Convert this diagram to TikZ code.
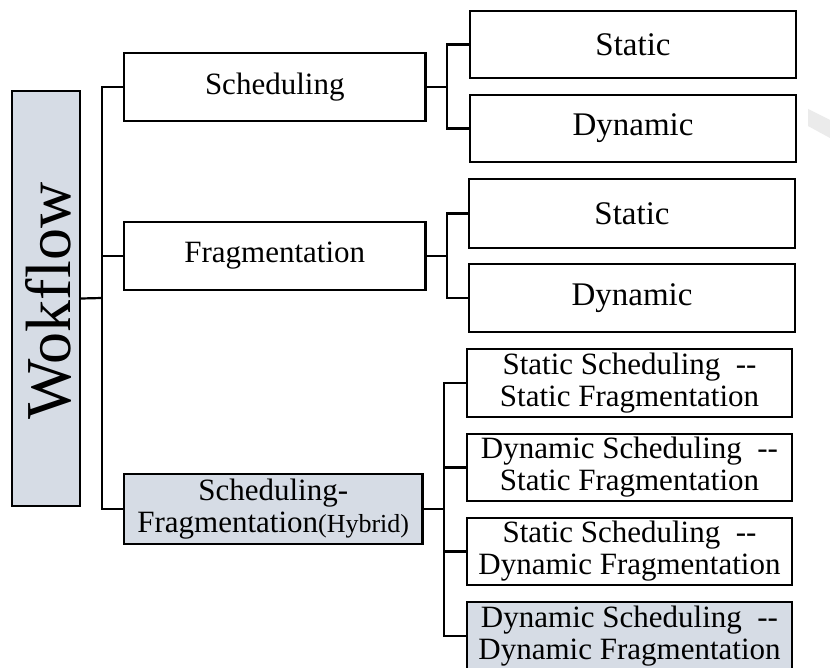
\documentclass[tikz,border=0pt]{standalone}
\usepackage{fontspec}
\setmainfont{Liberation Serif}
\definecolor{boxfill}{HTML}{D6DCE5}
\definecolor{wmark}{HTML}{EBEBEB}
\newcommand{\dd}{-{}-}
\begin{document}
\begin{tikzpicture}[x=1pt,y=-1pt,
  box/.style={draw=black,line width=2.2pt,rectangle,inner sep=0pt,align=center,
    font=\fontsize{31}{32}\selectfont},
  leaf/.style={box,minimum width=326pt,minimum height=67pt,font=\fontsize{33}{34}\selectfont},
  hleaf/.style={box,minimum width=325pt,minimum height=67pt},
  mid/.style={box,minimum width=301.5pt,minimum height=68pt},
  shaded/.style={fill=boxfill},
  link/.style={draw=black,line width=2.2pt}]
\useasboundingbox (0,0) rectangle (830,668);
\fill[white] (0,0) rectangle (830,668);
\fill[wmark] (808,109) -- (830,120) -- (830,138) -- (808,126) -- cycle;

% root
\node[box,shaded,minimum width=68pt,minimum height=415pt] (wf) at (46,298.5) {};
\node[rotate=90,font=\fontsize{64}{64}\selectfont,inner sep=0pt] (wft) at (48,301) {Wokflow};

% middle level
\node[mid] (sch) at (274.75,87) {Scheduling};
\node[mid] (frag) at (274.75,256) {Fragmentation};
\node[mid,shaded,minimum width=298.5pt,minimum height=70pt] (hyb) at (273.25,509)
  {Scheduling-\\Fragmentation{\fontsize{26}{32}\selectfont(Hybrid)}};

% leaves
\node[leaf] (s1) at (633,44.5) {Static};
\node[leaf] (d1) at (633,128.5) {Dynamic};
\node[leaf,minimum height=69pt] (s2) at (632,213.5) {Static};
\node[leaf,minimum height=68pt] (d2) at (632,298) {Dynamic};

\node[hleaf,minimum height=68pt] (h1) at (629.5,383) {Static Scheduling\ \ \dd\\Static Fragmentation};
\node[hleaf] (h2) at (629.5,467.5) {Dynamic Scheduling\ \ \dd\\Static Fragmentation};
\node[hleaf] (h3) at (629.5,551.5) {Static Scheduling\ \ \dd\\Dynamic Fragmentation};
\node[hleaf,shaded,minimum height=68pt] (h4) at (629.5,636) {Dynamic Scheduling\ \ \dd\\Dynamic Fragmentation};

% junctions
\coordinate (j0) at (102,298);
\coordinate (j1) at (447,87);
\coordinate (j2) at (447,256);
\coordinate (j3) at (444,509);

% connectors
\draw[link] (wf.east) -- (j0);
\draw[link] (sch.west) -| (j0);
\draw[link] (frag.west) -| (j0);
\draw[link] (hyb.west) -| (j0);

\draw[link] (sch.east) -- (j1);
\draw[link] (s1.west) -| (j1);
\draw[link] (d1.west) -| (j1);

\draw[link] (frag.east) -- (j2);
\draw[link] (s2.west) -| (j2);
\draw[link] (d2.west) -| (j2);

\draw[link] (hyb.east) -- (j3);
\draw[link] (h1.west) -| (j3);
\draw[link] (h2.west) -| (j3);
\draw[link] (h3.west) -| (j3);
\draw[link] (h4.west) -| (j3);
\end{tikzpicture}
\end{document}
